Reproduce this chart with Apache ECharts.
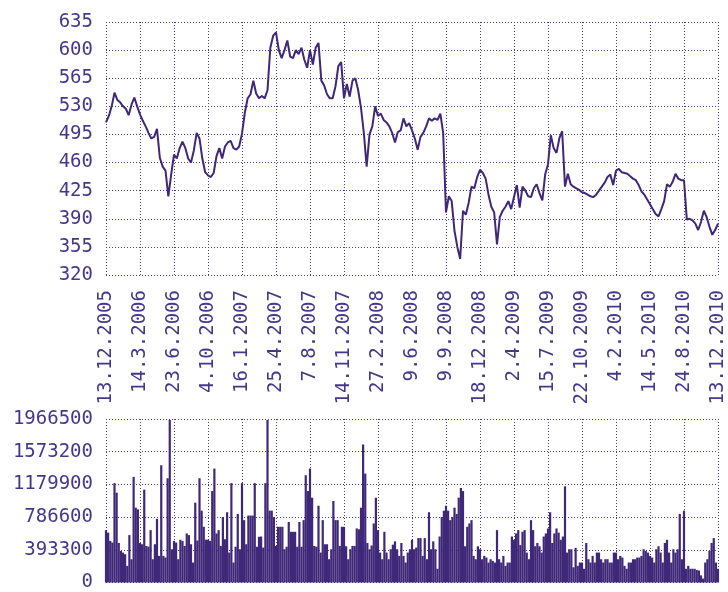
<!DOCTYPE html>
<html>
<head>
<meta charset="utf-8">
<script src="https://cdn.jsdelivr.net/npm/echarts@6/dist/echarts.min.js"></script>
<style>
  html, body { margin: 0; padding: 0; background: #fff; }
  #chart { width: 728px; height: 592px; }
</style>
</head>
<body>
<div id="chart"></div>
<script>
// tick labels under the price chart, one per 12 price points / 16 volume bars
const dateLabels = [
  '13.12.2005', '14.3.2006', '23.6.2006', '4.10.2006', '16.1.2007', '25.4.2007',
  '7.8.2007', '14.11.2007', '27.2.2008', '9.6.2008', '9.9.2008', '18.12.2008',
  '2.4.2009', '15.7.2009', '22.10.2009', '4.2.2010', '14.5.2010', '24.8.2010', '13.12.2010'
]

// price, 12 points per label interval
const price = [
  510, 518, 530, 547, 538, 535, 530, 527, 519, 532, 541, 530,
  520, 512, 505, 497, 490, 492, 502, 466, 455, 450, 418, 445,
  470, 465, 478, 486, 478, 465, 460, 475, 497, 490, 465, 448,
  444, 442, 447, 468, 478, 465, 480, 485, 487, 478, 476, 480,
  496, 522, 540, 545, 562, 546, 540, 543, 540, 550, 603, 618,
  622, 600, 590, 600, 612, 592, 590, 600, 595, 603, 588, 578,
  600, 582, 603, 609, 562, 556, 545, 540, 540, 555, 580, 585,
  540, 558, 542, 562, 565, 550, 528, 497, 455, 495, 505, 530,
  518, 521, 513, 510, 505, 497, 485, 498, 500, 515, 505, 509,
  500, 490, 476, 492, 497, 505, 515, 512, 515, 513, 521, 497,
  398, 418, 412, 375, 355, 340, 400, 395, 410, 430, 428, 442,
  451, 447, 440, 420, 405, 398, 358, 392, 400, 405, 412, 402,
  417, 432, 404, 430, 425, 418, 417, 428, 433, 422, 413, 445,
  458, 494, 478, 472, 490, 499, 430, 446, 433, 430, 428, 426,
  423, 422, 420, 418, 417, 420, 425, 430, 435, 442, 445, 432,
  450, 452, 448, 447, 446, 443, 440, 438, 432, 424, 420, 414,
  408, 402, 396, 393, 402, 412, 433, 430, 436, 446, 440, 438,
  438, 389, 390, 388, 384, 376, 386, 400, 392, 380, 370, 376,
  384
]

// volume in thousands, 16 bars per label interval
const volume = [
  630, 600, 500, 480, 1195, 1080, 475, 380, 360, 340, 200, 570, 280, 1270, 900, 880,
  475, 460, 1117, 440, 430, 630, 280, 460, 766, 320, 1410, 320, 300, 1254, 1955, 400,
  500, 480, 280, 514, 500, 440, 590, 570, 460, 240, 960, 505, 1254, 864, 670, 515,
  515, 500, 1100, 1370, 590, 630, 440, 787, 520, 845, 360, 1195, 240, 430, 825, 400,
  1195, 750, 460, 805, 805, 805, 1195, 430, 550, 553, 420, 1195, 1955, 864, 864, 787,
  440, 670, 670, 670, 400, 430, 728, 610, 610, 610, 430, 728, 430, 750, 1290, 1100,
  1370, 1020, 440, 430, 923, 360, 750, 460, 460, 280, 400, 980, 750, 750, 440, 670,
  670, 436, 280, 400, 440, 440, 650, 640, 900, 1660, 1310, 475, 400, 445, 710, 1020,
  630, 360, 280, 610, 360, 280, 400, 455, 495, 400, 320, 475, 320, 240, 360, 400,
  514, 400, 420, 534, 534, 320, 534, 280, 845, 400, 495, 400, 165, 553, 787, 864,
  923, 864, 750, 787, 900, 825, 1020, 1137, 1100, 436, 670, 710, 750, 320, 280, 436,
  400, 280, 320, 300, 240, 280, 260, 240, 630, 280, 240, 320, 200, 240, 240, 553,
  514, 590, 630, 450, 610, 630, 360, 280, 750, 630, 436, 475, 436, 360, 553, 590,
  650, 845, 475, 590, 650, 600, 514, 553, 1157, 360, 400, 400, 183, 417, 200, 240,
  240, 165, 475, 280, 240, 320, 240, 360, 360, 280, 240, 280, 280, 240, 240, 360,
  360, 280, 320, 300, 200, 165, 240, 240, 280, 280, 300, 300, 320, 400, 380, 360,
  320, 300, 240, 400, 436, 360, 240, 475, 514, 360, 240, 400, 360, 400, 825, 280,
  864, 165, 200, 165, 165, 165, 150, 144, 86, 47, 240, 280, 380, 475, 534, 240,
  165
]

const PRICE_STEP = 12
const VOL_STEP = 16

const ink = '#3f2878'
const textColor = '#47378a'
const gridLine = { show: true, lineStyle: { color: '#4b3b8f', width: 1, type: [1, 2] } }
const labelFont = { fontFamily: 'DejaVu Sans Mono', fontSize: 19, color: textColor }

const chart = echarts.init(document.getElementById('chart'))

chart.setOption({
  animation: false,
  grid: [
    { left: 106, right: 10, top: 22, height: 253 },
    { left: 106, right: 10, top: 419, height: 168 }
  ],
  xAxis: [
    {
      type: 'value', gridIndex: 0,
      min: 0, max: (dateLabels.length - 1) * PRICE_STEP, interval: PRICE_STEP,
      axisLine: { show: false }, axisTick: { show: false },
      splitLine: gridLine,
      axisLabel: {
        ...labelFont, rotate: 90, margin: 15,
        showMinLabel: true, showMaxLabel: true, hideOverlap: false,
        formatter: v => dateLabels[Math.round(v / PRICE_STEP)] || ''
      }
    },
    {
      type: 'value', gridIndex: 1,
      min: 0, max: (dateLabels.length - 1) * VOL_STEP, interval: VOL_STEP,
      axisLine: { show: false }, axisTick: { show: false },
      splitLine: gridLine,
      axisLabel: { show: false }
    }
  ],
  yAxis: [
    {
      type: 'value', gridIndex: 0,
      min: 320, max: 635, interval: 35,
      axisLine: { show: false }, axisTick: { show: false },
      splitLine: gridLine,
      axisLabel: { ...labelFont, margin: 13, showMinLabel: true, showMaxLabel: true }
    },
    {
      type: 'value', gridIndex: 1,
      min: 0, max: 1966.5, interval: 393.3,
      axisLine: { show: false }, axisTick: { show: false },
      splitLine: gridLine,
      axisLabel: {
        ...labelFont, margin: 13, showMinLabel: true, showMaxLabel: true,
        formatter: v => String(Math.round(v * 1000))
      }
    }
  ],
  series: [
    {
      type: 'line', xAxisIndex: 0, yAxisIndex: 0,
      data: price.map((v, i) => [i, v]),
      symbol: 'none',
      lineStyle: { color: ink, width: 2 }
    },
    {
      type: 'bar', xAxisIndex: 1, yAxisIndex: 1,
      data: volume.map((v, i) => [i, v]),
      barWidth: 2.2,
      itemStyle: { color: ink }
    }
  ]
})
</script>
</body>
</html>
